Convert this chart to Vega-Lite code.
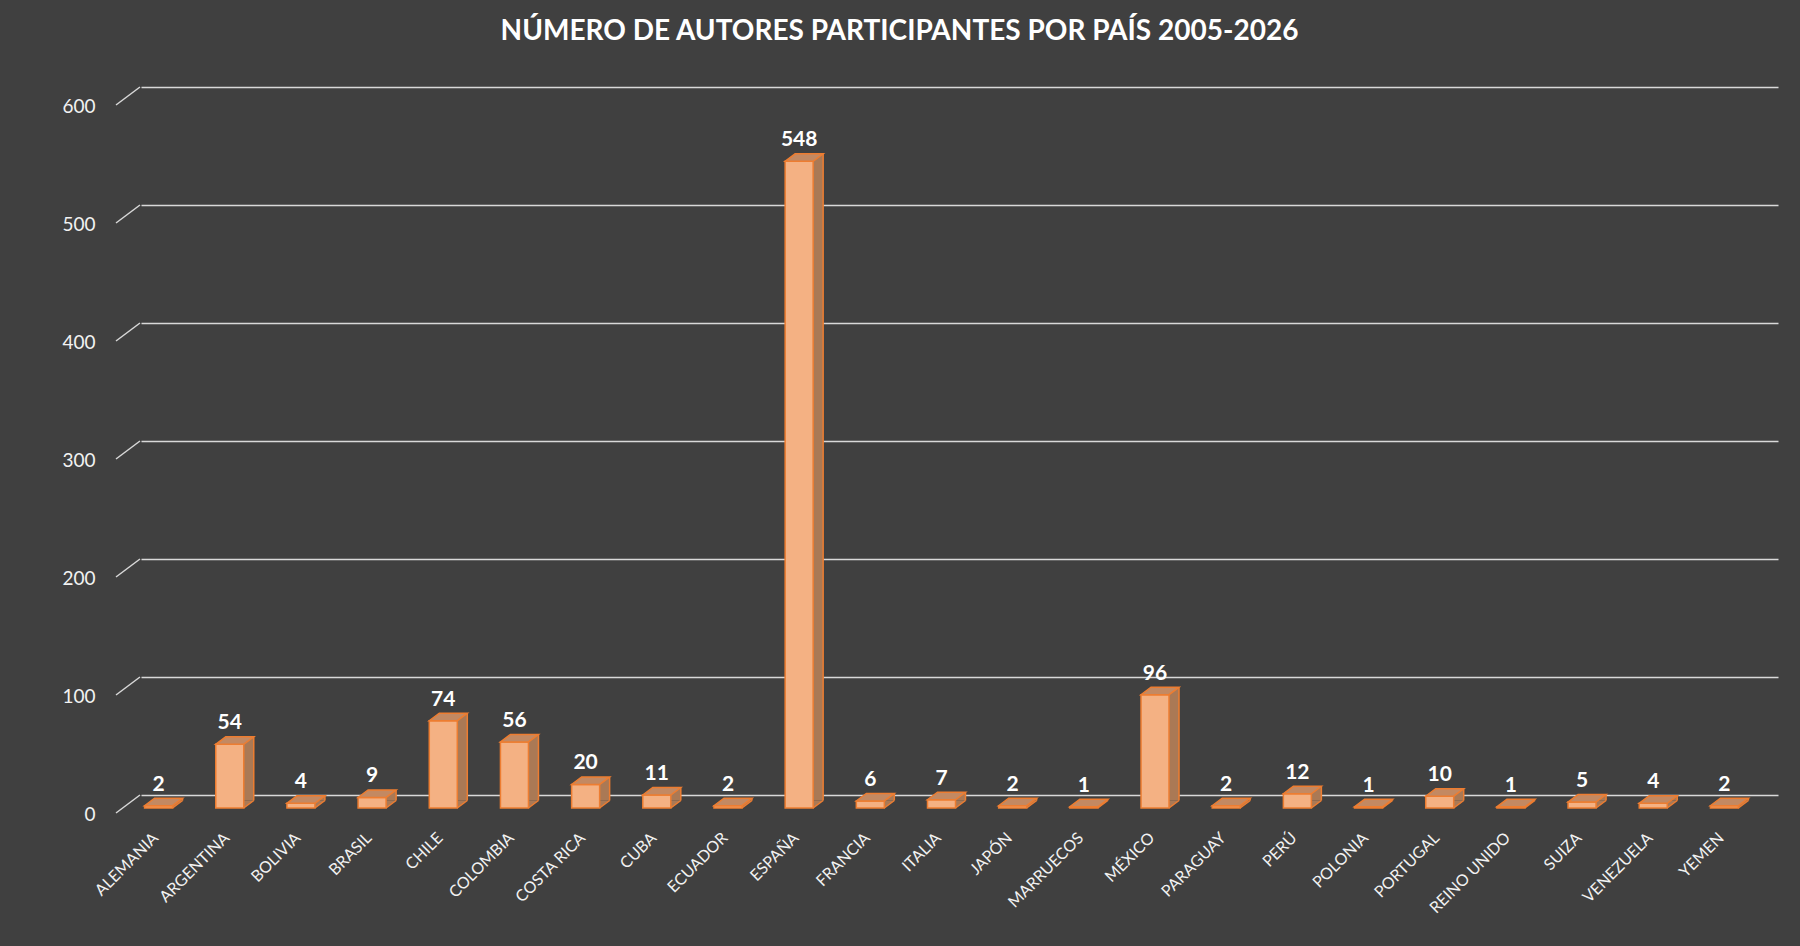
{
  "$schema": "https://vega.github.io/schema/vega-lite/v6.json",
  "autosize": {"type": "none"},
  "width": 1637,
  "height": 708,
  "padding": {"left": 141, "top": 87, "right": 22, "bottom": 151},
  "background": "#404040",
  "config": {
    "view": {"stroke": null},
    "font": "Lato"
  },
  "title": {
    "text": "NÚMERO DE AUTORES PARTICIPANTES POR PAÍS 2005-2026",
    "fontSize": 28,
    "fontWeight": "bold",
    "color": "#FFFFFF",
    "font": "Lato",
    "anchor": "middle",
    "baseline": "alphabetic",
    "offset": 16,
    "dx": -60
  },
  "datasets": {
    "autores": [
      {"pais": "ALEMANIA", "autores": 2},
      {"pais": "ARGENTINA", "autores": 54},
      {"pais": "BOLIVIA", "autores": 4},
      {"pais": "BRASIL", "autores": 9},
      {"pais": "CHILE", "autores": 74},
      {"pais": "COLOMBIA", "autores": 56},
      {"pais": "COSTA RICA", "autores": 20},
      {"pais": "CUBA", "autores": 11},
      {"pais": "ECUADOR", "autores": 2},
      {"pais": "ESPAÑA", "autores": 548},
      {"pais": "FRANCIA", "autores": 6},
      {"pais": "ITALIA", "autores": 7},
      {"pais": "JAPÓN", "autores": 2},
      {"pais": "MARRUECOS", "autores": 1},
      {"pais": "MÉXICO", "autores": 96},
      {"pais": "PARAGUAY", "autores": 2},
      {"pais": "PERÚ", "autores": 12},
      {"pais": "POLONIA", "autores": 1},
      {"pais": "PORTUGAL", "autores": 10},
      {"pais": "REINO UNIDO", "autores": 1},
      {"pais": "SUIZA", "autores": 5},
      {"pais": "VENEZUELA", "autores": 4},
      {"pais": "YEMEN", "autores": 2}
    ],
    "marcas": [
      {"autores": 0}, {"autores": 100}, {"autores": 200}, {"autores": 300},
      {"autores": 400}, {"autores": 500}, {"autores": 600}
    ]
  },
  "data": {"name": "autores"},
  "encoding": {
    "x": {
      "field": "pais",
      "type": "nominal",
      "sort": null,
      "scale": {"type": "band", "paddingInner": 0.5, "paddingOuter": 0.25},
      "axis": {
        "title": null,
        "domain": false,
        "ticks": false,
        "tickSize": 0,
        "labelAngle": -45,
        "labelAlign": "right",
        "labelBaseline": "middle",
        "labelPadding": 40,
        "labelOffset": -21,
        "labelFontSize": 16,
        "labelColor": "#F2F2F2",
        "labelFont": "Lato"
      }
    },
    "y": {
      "field": "autores",
      "type": "quantitative",
      "scale": {"domain": [0, 600], "nice": false},
      "axis": {
        "title": null,
        "values": [0, 100, 200, 300, 400, 500, 600],
        "domain": false,
        "ticks": false,
        "tickSize": 0,
        "grid": true,
        "gridColor": "#D9D9D9",
        "gridWidth": 1.5,
        "labelPadding": 46,
        "labelOffset": 19,
        "labelFontSize": 19,
        "labelColor": "#F2F2F2",
        "labelFont": "Lato"
      }
    }
  },
  "layer": [
    {
      "data": {"name": "marcas"},
      "mark": {"type": "point", "shape": "M -4.04 1.2 L -2.44 0", "size": 900, "filled": false, "stroke": "#D9D9D9", "strokeWidth": 1.5, "opacity": 1},
      "encoding": {"x": {"datum": "ALEMANIA"}}
    },
    {
      "mark": {"type": "bar", "width": 28, "fill": "#AA7955", "strokeWidth": 0, "xOffset": -8, "yOffset": 5.5, "y2Offset": 5.5}
    },
    {
      "mark": {"type": "point", "shape": "M -0.933 0 L 0.933 0 L 1.6 -0.5 L -0.267 -0.5 Z", "size": 900, "filled": true, "fill": "#AA7955", "strokeWidth": 0, "opacity": 1, "xOffset": -18, "yOffset": 13},
      "encoding": {"y": {"datum": 0}}
    },
    {
      "mark": {"type": "rule", "stroke": "#ED7D31", "strokeWidth": 1.5, "xOffset": 6, "yOffset": 5.5, "y2Offset": 5.5},
      "encoding": {"y2": {"datum": 0}}
    },
    {
      "mark": {"type": "point", "shape": "M 0.933 0 L 1.6 -0.5", "size": 900, "filled": false, "stroke": "#ED7D31", "strokeWidth": 1.5, "opacity": 1, "xOffset": -18, "yOffset": 13},
      "encoding": {"y": {"datum": 0}}
    },
    {
      "mark": {"type": "bar", "width": 28, "fill": "#F4B183", "stroke": "#ED7D31", "strokeWidth": 1.5, "xOffset": -18, "yOffset": 13, "y2Offset": 13}
    },
    {
      "mark": {"type": "point", "shape": "M -0.933 0 L 0.933 0 L 1.6 -0.5 L -0.267 -0.5 Z", "size": 900, "filled": true, "fill": "#C38962", "stroke": "#ED7D31", "strokeWidth": 1.5, "opacity": 1, "xOffset": -18, "yOffset": 13}
    },
    {
      "mark": {"type": "text", "font": "Lato", "fontSize": 21, "fontWeight": "bold", "color": "#FFFFFF", "baseline": "alphabetic", "align": "center", "xOffset": -18, "yOffset": -2},
      "encoding": {"text": {"field": "autores", "type": "quantitative"}}
    }
  ]
}
